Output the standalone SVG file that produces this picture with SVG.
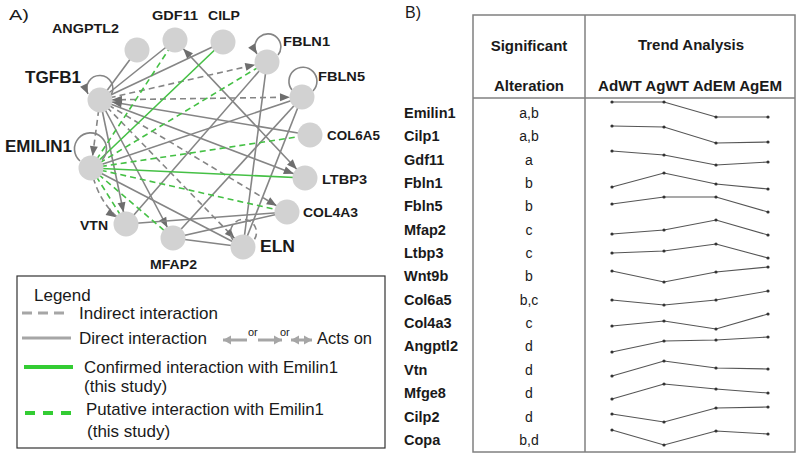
<svg xmlns="http://www.w3.org/2000/svg" width="800" height="457" viewBox="0 0 800 457">
<style>
text{font-family:"Liberation Sans",Arial,sans-serif;fill:#1a1a1a}
.nl{font-weight:bold;font-size:13px}
.nb{font-weight:bold;font-size:17px}
.lg{font-size:17px}
.th{font-weight:bold;font-size:15px}
.rl{font-weight:bold;font-size:14.5px}
.rv{font-size:14px;text-anchor:middle}
.e{stroke:#858585;stroke-width:1.6;fill:none}
.d{stroke:#858585;stroke-width:1.6;fill:none;stroke-dasharray:6 4}
.g{stroke:#45c045;stroke-width:1.6;fill:none}
.gd{stroke:#45c045;stroke-width:1.6;fill:none;stroke-dasharray:6 4}
.node{fill:#d2d2d2}
.tl{stroke:#555;stroke-width:1.1;fill:none}
.tb{stroke:#808080;stroke-width:1.5;fill:none}
</style>
<defs>
<marker id="arrN" markerUnits="userSpaceOnUse" markerWidth="23" markerHeight="9" refX="22" refY="4" orient="auto-start-reverse" overflow="visible"><path d="M0,0 L10,4 L0,8 Z" fill="#6e6e6e"/></marker>
<marker id="arrT" markerUnits="userSpaceOnUse" markerWidth="10" markerHeight="9" refX="10" refY="4" orient="auto-start-reverse" overflow="visible"><path d="M0,0 L10,4 L0,8 Z" fill="#6e6e6e"/></marker>
<marker id="arrL" markerUnits="userSpaceOnUse" markerWidth="10" markerHeight="10" refX="8" refY="4.5" orient="auto-start-reverse" overflow="visible"><path d="M0,0 L8,4.5 L0,9 Z" fill="#a6a6a6"/></marker>
<marker id="dot" markerUnits="userSpaceOnUse" markerWidth="4" markerHeight="4" refX="2" refY="2" overflow="visible"><circle cx="2" cy="2" r="1.6" fill="#333"/></marker>
</defs>
<rect width="800" height="457" fill="#fff"/>
<text x="9" y="20" font-size="15" textLength="20" lengthAdjust="spacingAndGlyphs">A)</text>
<text x="405" y="18" font-size="16">B)</text>

<g id="connectors">
<line class="e" x1="100" y1="100" x2="137" y2="50"/>
<line class="e" x1="100" y1="100" x2="175" y2="40"/>
<line class="e" x1="100" y1="100" x2="223" y2="42"/>
<line class="e" x1="100" y1="100" x2="305" y2="178" marker-end="url(#arrN)"/>
<line class="e" x1="100" y1="100" x2="126" y2="224" marker-end="url(#arrN)"/>
<line class="e" x1="100" y1="100" x2="173" y2="238" marker-end="url(#arrN)"/>
<line class="e" x1="100" y1="100" x2="310" y2="135" marker-start="url(#arrN)"/>
<line class="e" x1="175" y1="40" x2="305" y2="178" marker-start="url(#arrN)" marker-end="url(#arrN)"/>
<line class="e" x1="267" y1="62" x2="126" y2="224"/>
<line class="e" x1="267" y1="62" x2="243" y2="247"/>
<line class="e" x1="302" y1="97" x2="243" y2="247"/>
<line class="e" x1="302" y1="97" x2="173" y2="238"/>
<line class="e" x1="302" y1="97" x2="91" y2="168"/>
<line class="e" x1="91" y1="168" x2="243" y2="247"/>
<line class="e" x1="173" y1="238" x2="287" y2="212"/>
<line class="e" x1="126" y1="224" x2="287" y2="212"/>
<line class="e" x1="173" y1="238" x2="243" y2="247"/>
<line class="d" x1="100" y1="100" x2="267" y2="62" marker-end="url(#arrN)"/>
<line class="d" x1="100" y1="100" x2="302" y2="97" marker-start="url(#arrN)" marker-end="url(#arrN)"/>
<line class="d" x1="100" y1="100" x2="91" y2="168" marker-end="url(#arrN)"/>
<line class="d" x1="100" y1="100" x2="287" y2="212" marker-end="url(#arrN)"/>
<line class="d" x1="100" y1="100" x2="243" y2="247" marker-end="url(#arrN)"/>
<path class="d" d="M91,168 Q98,205 126,224" marker-end="url(#arrN)"/>
<line class="g" x1="91" y1="168" x2="223" y2="42"/>
<line class="g" x1="91" y1="168" x2="305" y2="178"/>
<line class="gd" x1="91" y1="168" x2="175" y2="40"/>
<line class="gd" x1="91" y1="168" x2="267" y2="62"/>
<line class="gd" x1="91" y1="168" x2="310" y2="135"/>
<line class="gd" x1="91" y1="168" x2="287" y2="212"/>
<line class="gd" x1="91" y1="168" x2="126" y2="224"/>
<line class="gd" x1="91" y1="168" x2="173" y2="238"/>
<path class="e" d="M111,95 A13,13 0 1 0 88,94" marker-end="url(#arrT)"/>
<path class="e" d="M278,55 A13,13 0 1 0 257,54" marker-end="url(#arrT)"/>
<path class="e" d="M292,90 A14,14 0 1 1 313,91"/>
<path class="e" d="M80,161 A16,16 0 1 1 102,160"/>
<path class="d" d="M233,240 A13,13 0 1 1 254,240"/>
</g>

<g id="node-tgfb1"><circle class="node" cx="100" cy="100" r="12.5"/><text class="nb" x="25" y="83" textLength="56" lengthAdjust="spacingAndGlyphs">TGFB1</text></g>
<g id="node-angptl2"><circle class="node" cx="137" cy="50" r="12.5"/><text class="nl" x="52" y="33" textLength="67" lengthAdjust="spacingAndGlyphs">ANGPTL2</text></g>
<g id="node-gdf11"><circle class="node" cx="175" cy="40" r="12.5"/><text class="nl" x="152" y="20" textLength="46" lengthAdjust="spacingAndGlyphs">GDF11</text></g>
<g id="node-cilp"><circle class="node" cx="223" cy="42" r="12.5"/><text class="nl" x="208" y="20" textLength="32" lengthAdjust="spacingAndGlyphs">CILP</text></g>
<g id="node-fbln1"><circle class="node" cx="267" cy="62" r="12.5"/><text class="nl" x="283" y="46" textLength="47" lengthAdjust="spacingAndGlyphs">FBLN1</text></g>
<g id="node-fbln5"><circle class="node" cx="302" cy="97" r="12.5"/><text class="nl" x="318" y="81" textLength="47" lengthAdjust="spacingAndGlyphs">FBLN5</text></g>
<g id="node-col6a5"><circle class="node" cx="310" cy="135" r="12.5"/><text class="nl" x="327" y="140" textLength="53" lengthAdjust="spacingAndGlyphs">COL6A5</text></g>
<g id="node-ltbp3"><circle class="node" cx="305" cy="178" r="12.5"/><text class="nl" x="322" y="184" textLength="45" lengthAdjust="spacingAndGlyphs">LTBP3</text></g>
<g id="node-col4a3"><circle class="node" cx="287" cy="212" r="12.5"/><text class="nl" x="303" y="217" textLength="55" lengthAdjust="spacingAndGlyphs">COL4A3</text></g>
<g id="node-eln"><circle class="node" cx="243" cy="247" r="12.5"/><text class="nb" x="260" y="252" textLength="35" lengthAdjust="spacingAndGlyphs">ELN</text></g>
<g id="node-mfap2"><circle class="node" cx="173" cy="238" r="12.5"/><text class="nl" x="150" y="269" textLength="47" lengthAdjust="spacingAndGlyphs">MFAP2</text></g>
<g id="node-vtn"><circle class="node" cx="126" cy="224" r="12.5"/><text class="nl" x="80" y="230" textLength="28" lengthAdjust="spacingAndGlyphs">VTN</text></g>
<g id="node-emilin1"><circle class="node" cx="91" cy="168" r="12.5"/><text class="nb" x="5" y="152" textLength="67" lengthAdjust="spacingAndGlyphs">EMILIN1</text></g>

<g id="legend">
<rect x="17" y="276" width="368" height="172" fill="none" stroke="#333" stroke-width="1.2"/>
<text class="lg" x="34" y="301">Legend</text>
<line x1="22" y1="313" x2="70" y2="313" stroke="#a6a6a6" stroke-width="3" stroke-dasharray="10 6"/>
<text class="lg" x="79" y="319" textLength="139" lengthAdjust="spacingAndGlyphs">Indirect interaction</text>
<line x1="22" y1="338" x2="71" y2="338" stroke="#a6a6a6" stroke-width="3"/>
<text class="lg" x="79" y="344" textLength="128" lengthAdjust="spacingAndGlyphs">Direct interaction</text>
<line x1="247" y1="340" x2="223" y2="340" stroke="#a6a6a6" stroke-width="3" marker-end="url(#arrL)"/>
<text x="248" y="336" font-size="11">or</text>
<line x1="258" y1="340" x2="282" y2="340" stroke="#a6a6a6" stroke-width="3" marker-end="url(#arrL)"/>
<text x="280" y="336" font-size="11">or</text>
<line x1="291" y1="340" x2="312" y2="340" stroke="#a6a6a6" stroke-width="3" marker-start="url(#arrL)" marker-end="url(#arrL)"/>
<text class="lg" x="317" y="344" textLength="55" lengthAdjust="spacingAndGlyphs">Acts on</text>
<line x1="24" y1="367" x2="73" y2="367" stroke="#33cc33" stroke-width="4"/>
<text class="lg" x="84" y="373" textLength="254" lengthAdjust="spacingAndGlyphs">Confirmed interaction with Emilin1</text>
<text class="lg" x="84" y="392">(this study)</text>
<line x1="25" y1="413" x2="72" y2="413" stroke="#33cc33" stroke-width="4" stroke-dasharray="10 8"/>
<text class="lg" x="86" y="415" textLength="238" lengthAdjust="spacingAndGlyphs">Putative interaction with Emilin1</text>
<text class="lg" x="87" y="437">(this study)</text>
</g>

<g id="table">
<rect class="tb" x="473" y="15" width="322" height="437"/>
<line class="tb" x1="585" y1="15" x2="585" y2="452"/>
<line class="tb" x1="473" y1="98" x2="795" y2="98"/>
<text class="th" x="529" y="51" text-anchor="middle">Significant</text>
<text class="th" x="529" y="91" text-anchor="middle">Alteration</text>
<text class="th" x="691" y="50" text-anchor="middle">Trend Analysis</text>
<text class="th" x="598" y="91" textLength="184" lengthAdjust="spacingAndGlyphs">AdWT AgWT AdEM AgEM</text>
</g>

<g id="rows">
<text class="rl" x="404" y="118">Emilin1</text><text class="rv" x="529" y="118">a,b</text>
<text class="rl" x="404" y="141">Cilp1</text><text class="rv" x="529" y="141">a,b</text>
<text class="rl" x="404" y="165">Gdf11</text><text class="rv" x="529" y="165">a</text>
<text class="rl" x="404" y="188">Fbln1</text><text class="rv" x="529" y="188">b</text>
<text class="rl" x="404" y="211">Fbln5</text><text class="rv" x="529" y="211">b</text>
<text class="rl" x="404" y="235">Mfap2</text><text class="rv" x="529" y="235">c</text>
<text class="rl" x="404" y="258">Ltbp3</text><text class="rv" x="529" y="258">c</text>
<text class="rl" x="404" y="281">Wnt9b</text><text class="rv" x="529" y="281">b</text>
<text class="rl" x="404" y="305">Col6a5</text><text class="rv" x="529" y="305">b,c</text>
<text class="rl" x="404" y="328">Col4a3</text><text class="rv" x="529" y="328">c</text>
<text class="rl" x="404" y="351">Angptl2</text><text class="rv" x="529" y="351">d</text>
<text class="rl" x="404" y="375">Vtn</text><text class="rv" x="529" y="375">d</text>
<text class="rl" x="404" y="398">Mfge8</text><text class="rv" x="529" y="398">d</text>
<text class="rl" x="404" y="422">Cilp2</text><text class="rv" x="529" y="422">d</text>
<text class="rl" x="404" y="445">Copa</text><text class="rv" x="529" y="445">b,d</text>
</g>

<g id="trends" marker-start="url(#dot)" marker-mid="url(#dot)" marker-end="url(#dot)">
<polyline class="tl" points="612,102 664,102 716,117 768,117"/>
<polyline class="tl" points="612,126 664,127 716,143 768,142"/>
<polyline class="tl" points="612,151 664,155 716,165 768,162"/>
<polyline class="tl" points="612,187 664,173 716,184 768,189"/>
<polyline class="tl" points="612,204 664,197 716,197 768,212"/>
<polyline class="tl" points="612,234 664,230 716,220 768,235"/>
<polyline class="tl" points="612,253 664,251 716,244 768,258"/>
<polyline class="tl" points="612,271 664,282 716,272 768,267"/>
<polyline class="tl" points="612,300 664,305 716,300 768,291"/>
<polyline class="tl" points="612,326 664,321 716,329 768,314"/>
<polyline class="tl" points="612,352 664,341 716,340 768,337"/>
<polyline class="tl" points="612,376 664,361 716,368 768,369"/>
<polyline class="tl" points="612,399 664,384 716,389 768,393"/>
<polyline class="tl" points="612,414 664,422 716,408 768,407"/>
<polyline class="tl" points="612,430 664,445 716,431 768,434"/>
</g>
</svg>
